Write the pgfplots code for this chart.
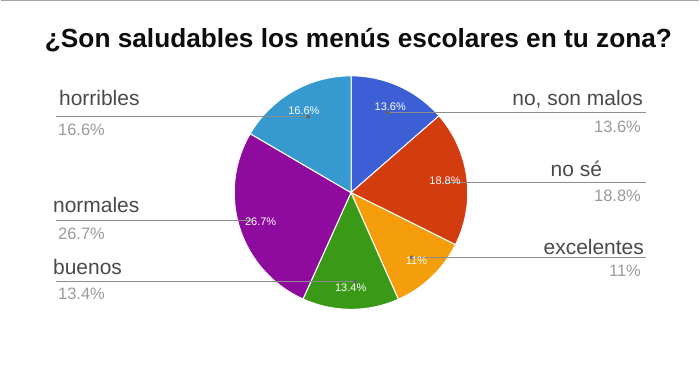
\documentclass[border=0pt]{standalone}
\usepackage{pgfplots}
\pgfplotsset{compat=1.18}
\usepackage{pgfplotstable}
\usepackage{fontspec}
\setmainfont{Liberation Sans}

\definecolor{pie0}{HTML}{3D5FD6}
\definecolor{pie1}{HTML}{D23C0E}
\definecolor{pie2}{HTML}{F59E0C}
\definecolor{pie3}{HTML}{3A9A18}
\definecolor{pie4}{HTML}{8E0B9E}
\definecolor{pie5}{HTML}{3699CF}
\definecolor{lbl}{HTML}{4A4A4A}
\definecolor{pct}{HTML}{9A9A9A}
\definecolor{lead}{HTML}{8C8C8C}

% slices clockwise from 12 o'clock
\pgfplotstableread{
value
13.6
18.8
11
13.4
26.7
16.6
}\piedata

\def\pietotal{0}
\foreach \i in {0,...,5}{%
  \pgfplotstablegetelem{\i}{value}\of\piedata
  \pgfmathsetmacro\myT{\pietotal+\pgfplotsretval}%
  \xdef\pietotal{\myT}%
}
\def\piecum{0}
\foreach \i in {0,...,5}{%
  \pgfplotstablegetelem{\i}{value}\of\piedata
  \expandafter\xdef\csname pieV\i\endcsname{\pgfplotsretval}%
  \pgfmathsetmacro\myS{90-\piecum/\pietotal*360}%
  \pgfmathsetmacro\myE{90-(\piecum+\pgfplotsretval)/\pietotal*360}%
  \pgfmathsetmacro\myM{(\myS+\myE)/2}%
  \expandafter\xdef\csname pieS\i\endcsname{\myS}%
  \expandafter\xdef\csname pieE\i\endcsname{\myE}%
  \expandafter\xdef\csname pieM\i\endcsname{\myM}%
  \pgfmathsetmacro\myC{\piecum+\pgfplotsretval}%
  \xdef\piecum{\myC}%
}

\begin{document}
\begin{tikzpicture}
\begin{axis}[
  width=700pt, height=382pt, scale only axis,
  xmin=0, xmax=700, ymin=0, ymax=382, y dir=reverse,
  hide axis, clip=false,
]
\fill[white] (axis cs:0,0) rectangle (axis cs:700,382);
\draw[color=black!35, line width=1.5pt] (axis cs:0,0.75) -- (axis cs:700,0.75);

% title
\node[anchor=base, font=\bfseries\fontsize{26.3}{30}\selectfont, text=black!95] at (axis cs:358.5,48) {¿Son saludables los menús escolares en tu zona?};

% pie
\pgfplotsinvokeforeach{0,...,5}{
  \fill[pie#1, draw=white, line width=1pt, line join=round] (axis cs:351,193) -- ++(\csname pieS#1\endcsname:117pt)
     arc[start angle=\csname pieS#1\endcsname, end angle=\csname pieE#1\endcsname, radius=117pt] -- cycle;
}

% leader lines
\draw[lead, line width=1.3pt] (axis cs:55,117) -- (axis cs:308,117);
\draw[lead, line width=1.3pt] (axis cs:55,221) -- (axis cs:250,221);
\draw[lead, line width=1.3pt] (axis cs:55,282) -- (axis cs:355,282);
\draw[lead, line width=1.3pt] (axis cs:388,113) -- (axis cs:647,113);
\draw[lead, line width=1.3pt] (axis cs:447,183) -- (axis cs:647,183);
\draw[lead, line width=1.3pt] (axis cs:412,258) -- (axis cs:647,258);
\fill[black!60] (axis cs:308,117) circle[radius=2pt];
\fill[black!60] (axis cs:250,221) circle[radius=2pt];
\fill[black!60] (axis cs:355,282) circle[radius=2pt];
\fill[black!60] (axis cs:388,113) circle[radius=2pt];
\fill[black!60] (axis cs:447,183) circle[radius=2pt];
\fill[black!60] (axis cs:412,258) circle[radius=2pt];

% in-slice percentages
\pgfplotsinvokeforeach{0,...,5}{
  \path (axis cs:351,193) ++(\csname pieM#1\endcsname:95pt) node[text=white, font=\fontsize{11}{13}\selectfont] {\csname pieV#1\endcsname\%};
}

% left labels
\node[anchor=base west, text=lbl, font=\fontsize{21}{24}\selectfont] at (axis cs:55,106) {horribles};
\node[anchor=base west, text=pct, font=\fontsize{16.5}{20}\selectfont] at (axis cs:54,136) {16.6\%};
\node[anchor=base west, text=lbl, font=\fontsize{21}{24}\selectfont] at (axis cs:49,213) {normales};
\node[anchor=base west, text=pct, font=\fontsize{16.5}{20}\selectfont] at (axis cs:54,240) {26.7\%};
\node[anchor=base west, text=lbl, font=\fontsize{21}{24}\selectfont] at (axis cs:49,275) {buenos};
\node[anchor=base west, text=pct, font=\fontsize{16.5}{20}\selectfont] at (axis cs:54,300) {13.4\%};

% right labels
\node[anchor=base east, text=lbl, font=\fontsize{21}{24}\selectfont] at (axis cs:647,106) {no, son malos};
\node[anchor=base east, text=pct, font=\fontsize{16.5}{20}\selectfont] at (axis cs:645,133) {13.6\%};
\node[anchor=base east, text=lbl, font=\fontsize{21}{24}\selectfont] at (axis cs:606,177) {no sé};
\node[anchor=base east, text=pct, font=\fontsize{16.5}{20}\selectfont] at (axis cs:645,202) {18.8\%};
\node[anchor=base east, text=lbl, font=\fontsize{21}{24}\selectfont] at (axis cs:648,255) {excelentes};
\node[anchor=base east, text=pct, font=\fontsize{16.5}{20}\selectfont] at (axis cs:645,277) {11\%};
\end{axis}
\end{tikzpicture}
\end{document}
